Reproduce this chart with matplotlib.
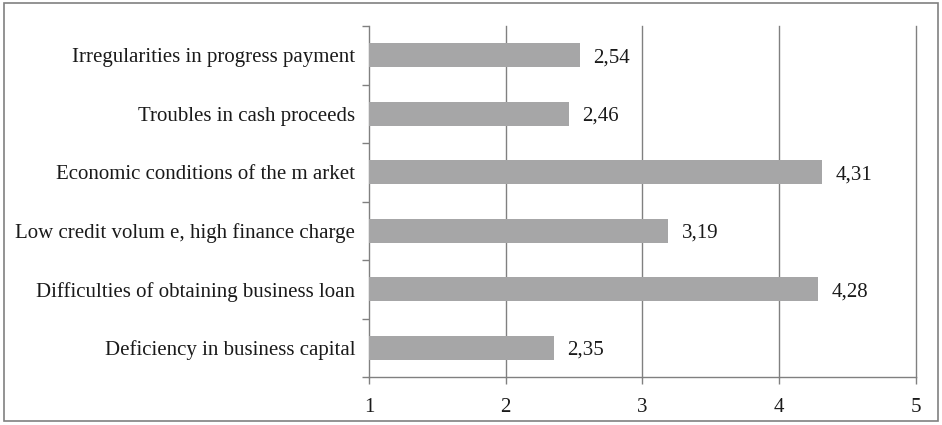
import numpy as np
import matplotlib.pyplot as plt
from matplotlib.patches import Rectangle

categories = ['Deficiency in business capital',
              'Difficulties of obtaining business loan',
              'Low credit volum e, high finance charge',
              'Economic conditions of the m arket',
              'Troubles in cash proceeds',
              'Irregularities in progress payment']
values = [2.35, 4.28, 3.19, 4.31, 2.46, 2.54]
xticks = [1, 2, 3, 4, 5]

plt.rcParams['font.family'] = ['Liberation Serif', 'DejaVu Serif']
fs = 15

fig = plt.figure(figsize=(9.42, 4.25), dpi=100)
ax = fig.add_axes([0.3917, 0.1129, 0.5807, 0.8259])

pos = np.arange(len(categories))
base = 1
ax.barh(pos, np.array(values) - base, left=base, height=0.41, color='#a6a6a7', zorder=3)

for p, v in zip(pos, values):
    ax.text(v + 0.1, p, '{:.2f}'.format(v).replace('.', ','), va='center_baseline', ha='left',
            fontsize=fs, color='#1a1a1a')

ax.set_xlim(1, 5)
ax.set_ylim(-0.5, len(categories) - 0.5)
ax.set_xticks(xticks)
ax.set_xticklabels([str(t) for t in xticks], fontsize=fs, color='#1a1a1a')
ax.set_yticks(pos)
ax.set_yticklabels(categories, fontsize=fs, color='#1a1a1a')
ax.tick_params(axis='y', length=0, pad=10)
ax.set_yticks(np.arange(-0.5, len(categories)), minor=True)
ax.tick_params(axis='y', which='minor', length=5, color='#808080', width=1)
ax.tick_params(axis='x', length=5, color='#808080', width=1, pad=10)

for t in xticks[1:]:
    ax.axvline(t, color='#808080', linewidth=1, zorder=0, clip_on=False)
for s in ['top', 'right']:
    ax.spines[s].set_visible(False)
for s in ['left', 'bottom']:
    ax.spines[s].set_color('#808080')
    ax.spines[s].set_linewidth(1)

fig.patches.append(Rectangle((0.004, 0.01), 0.992, 0.982, transform=fig.transFigure,
                             fill=False, edgecolor='#808080', linewidth=1.2))

fig.savefig('out.png', dpi=100)
